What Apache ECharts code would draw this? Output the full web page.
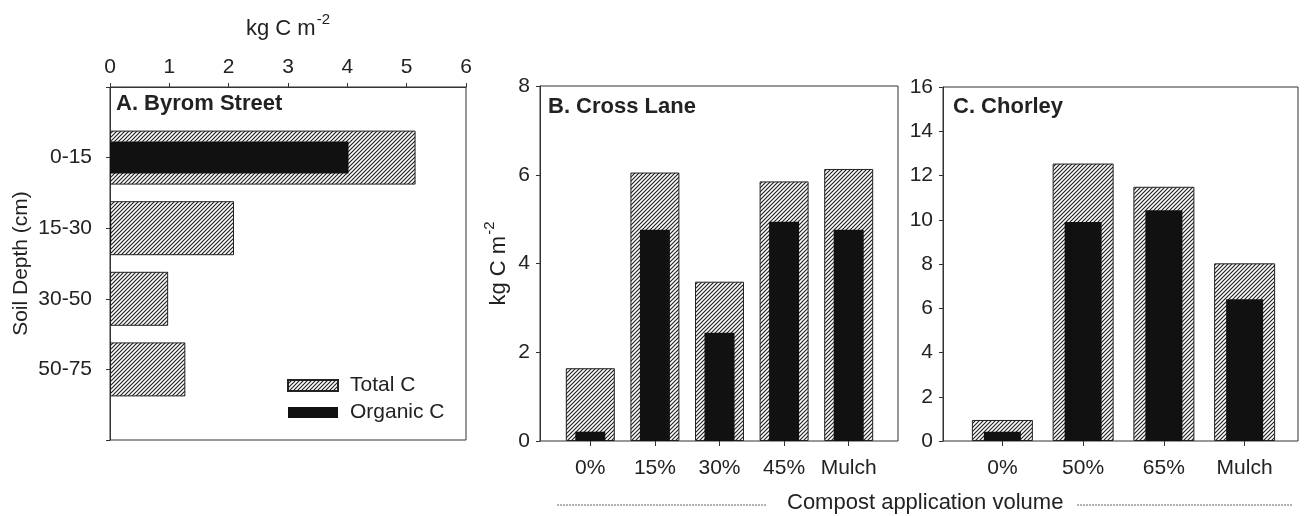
<!DOCTYPE html>
<html>
<head>
<meta charset="utf-8">
<script src="https://cdn.jsdelivr.net/npm/echarts@6/dist/echarts.min.js"></script>
<style>
html, body { margin: 0; padding: 0; background: #fff; }
#chart { width: 1308px; height: 516px; }
</style>
</head>
<body>
<div id="chart"></div>
<script>
// values (kg C m-2)
var depthCats = ['0-15', '15-30', '30-50', '50-75'];
var byromTotal = [5.15, 2.09, 0.98, 1.27];
var byromOrganic = [4.02, 0.02, 0, 0];

var crossCats = ['0%', '15%', '30%', '45%', 'Mulch'];
var crossTotal = [1.64, 6.05, 3.59, 5.85, 6.13];
var crossOrganic = [0.21, 4.76, 2.44, 4.94, 4.76];

var chorleyCats = ['0%', '50%', '65%', 'Mulch'];
var chorleyTotal = [0.95, 12.54, 11.49, 8.03];
var chorleyOrganic = [0.42, 9.9, 10.43, 6.41];

var FONT = 'Liberation Sans, Arial, sans-serif';
var INK = '#222';

// diagonal hatch tile for the Total C bars
function hatch() {
	var c = document.createElement('canvas');
	c.width = 4; c.height = 4;
	var ctx = c.getContext('2d');
	ctx.fillStyle = '#fff';
	ctx.fillRect(0, 0, 4, 4);
	ctx.strokeStyle = '#222';
	ctx.lineWidth = 1.2;
	ctx.beginPath();
	ctx.moveTo(0, 4); ctx.lineTo(4, 0);
	ctx.moveTo(-1, 1); ctx.lineTo(1, -1);
	ctx.moveTo(3, 5); ctx.lineTo(5, 3);
	ctx.stroke();
	return c;
}
var hatchFill = { image: hatch(), repeat: 'repeat' };

// panel A uses padded categories so bars sit at 1..4 on a 0..5 scale
var depthAxisCats = [''].concat(depthCats, ['']);
function pad(arr) { return ['-'].concat(arr, ['-']); }

var unitRich = {
	t: { fontSize: 22, fontFamily: FONT, color: INK, lineHeight: 28, verticalAlign: 'bottom' },
	s: { fontSize: 15, fontFamily: FONT, color: INK, lineHeight: 28, verticalAlign: 'top', padding: [0, 0, 0, 1] }
};
var unitName = '{t|kg C m}{s|-2}';

var labelStyle = { color: INK, fontSize: 21, fontFamily: FONT };
var lineStyle = { color: '#333', width: 1 };
var titleStyle = { fontSize: 22, fontWeight: 'bold', color: INK, fontFamily: FONT };

function hiddenCat(grid, data) {
	return { type: 'category', gridIndex: grid, data: data, show: false };
}

var myChart = echarts.init(document.getElementById('chart'));

var option = {
	backgroundColor: '#fff',
	animation: false,
	textStyle: { fontFamily: FONT },
	title: [
		{ text: 'A. Byrom Street', left: 116, top: 93, padding: 0, textStyle: titleStyle },
		{ text: 'B. Cross Lane', left: 548, top: 96, padding: 0, textStyle: titleStyle },
		{ text: 'C. Chorley', left: 953, top: 96, padding: 0, textStyle: titleStyle }
	],
	legend: {
		orient: 'vertical',
		left: 287,
		top: 375,
		padding: 0,
		itemWidth: 50,
		itemHeight: 11,
		itemGap: 6,
		icon: 'rect',
		data: ['Total C', 'Organic C'],
		textStyle: { color: INK, fontSize: 21, fontFamily: FONT, padding: [0, 0, 0, 7] }
	},
	grid: [
		{ left: 110, top: 87, width: 356, height: 353, show: true, borderColor: '#333', borderWidth: 1 },
		{ left: 540, top: 86, width: 358, height: 355, show: true, borderColor: '#333', borderWidth: 1 },
		{ left: 558, top: 86, width: 323, height: 355 },
		{ left: 943, top: 87, width: 355, height: 354, show: true, borderColor: '#333', borderWidth: 1 },
		{ left: 962, top: 87, width: 323, height: 354 }
	],
	xAxis: [
		{
			type: 'value', gridIndex: 0, position: 'top', min: 0, max: 6, interval: 1,
			name: unitName, nameLocation: 'middle', nameGap: 47,
			nameTextStyle: { rich: unitRich },
			axisLine: { show: true, lineStyle: lineStyle },
			axisTick: { show: true, inside: false, length: 4, lineStyle: lineStyle },
			axisLabel: Object.assign({ margin: 9 }, labelStyle),
			splitLine: { show: false }
		},
		{ type: 'value', gridIndex: 1, min: 0, max: 1, show: false },
		{
			type: 'category', gridIndex: 2, data: crossCats,
			axisLine: { show: false },
			axisTick: { show: true, alignWithLabel: true, length: 5, lineStyle: lineStyle },
			axisLabel: Object.assign({ margin: 17, interval: 0 }, labelStyle)
		},
		hiddenCat(2, crossCats),
		{ type: 'value', gridIndex: 3, min: 0, max: 1, show: false },
		{
			type: 'category', gridIndex: 4, data: chorleyCats,
			axisLine: { show: false },
			axisTick: { show: true, alignWithLabel: true, length: 5, lineStyle: lineStyle },
			axisLabel: Object.assign({ margin: 17, interval: 0 }, labelStyle)
		},
		hiddenCat(4, chorleyCats)
	],
	yAxis: [
		{
			type: 'category', gridIndex: 0, inverse: true, boundaryGap: false, data: depthAxisCats,
			name: 'Soil Depth (cm)', nameLocation: 'middle', nameGap: 78,
			nameTextStyle: { color: INK, fontSize: 21, fontFamily: FONT },
			axisLine: { show: true, lineStyle: lineStyle },
			axisTick: { show: true, length: 4, lineStyle: lineStyle },
			axisLabel: Object.assign({ margin: 18, interval: 0 }, labelStyle)
		},
		{ type: 'category', gridIndex: 0, inverse: true, boundaryGap: false, data: depthAxisCats, show: false },
		{
			type: 'value', gridIndex: 1, min: 0, max: 8, interval: 2,
			name: unitName, nameLocation: 'middle', nameGap: 30,
			nameTextStyle: { rich: unitRich },
			axisLine: { show: true, lineStyle: lineStyle },
			axisTick: { show: true, length: 4, lineStyle: lineStyle },
			axisLabel: Object.assign({ margin: 10 }, labelStyle),
			splitLine: { show: false }
		},
		{ type: 'value', gridIndex: 2, min: 0, max: 8, show: false },
		{
			type: 'value', gridIndex: 3, min: 0, max: 16, interval: 2,
			axisLine: { show: true, lineStyle: lineStyle },
			axisTick: { show: true, length: 4, lineStyle: lineStyle },
			axisLabel: Object.assign({ margin: 10 }, labelStyle),
			splitLine: { show: false }
		},
		{ type: 'value', gridIndex: 4, min: 0, max: 16, show: false }
	],
	series: [
		{
			type: 'bar', name: 'Total C', xAxisIndex: 0, yAxisIndex: 0, barWidth: 54,
			data: pad(byromTotal),
			itemStyle: { color: hatchFill, borderColor: INK, borderWidth: 1 }
		},
		{
			type: 'bar', name: 'Organic C', xAxisIndex: 0, yAxisIndex: 1, barWidth: 32, z: 3,
			data: pad(byromOrganic),
			itemStyle: { color: '#111' }
		},
		{
			type: 'bar', name: 'Total C', xAxisIndex: 2, yAxisIndex: 3, barWidth: 49,
			data: crossTotal,
			itemStyle: { color: hatchFill, borderColor: INK, borderWidth: 1 }
		},
		{
			type: 'bar', name: 'Organic C', xAxisIndex: 3, yAxisIndex: 3, barWidth: 30, z: 3,
			data: crossOrganic,
			itemStyle: { color: '#111' }
		},
		{
			type: 'bar', name: 'Total C', xAxisIndex: 5, yAxisIndex: 5, barWidth: 61,
			data: chorleyTotal,
			itemStyle: { color: hatchFill, borderColor: INK, borderWidth: 1 }
		},
		{
			type: 'bar', name: 'Organic C', xAxisIndex: 6, yAxisIndex: 5, barWidth: 37, z: 3,
			data: chorleyOrganic,
			itemStyle: { color: '#111' }
		}
	],
	graphic: [
		{
			type: 'text', left: 787, top: 492,
			style: { text: 'Compost application volume', fill: INK, fontSize: 22, fontFamily: FONT }
		},
		{
			type: 'line', shape: { x1: 557, y1: 505, x2: 767, y2: 505 },
			style: { stroke: '#666', lineWidth: 1, lineDash: [2, 1] }
		},
		{
			type: 'line', shape: { x1: 1077, y1: 505, x2: 1293, y2: 505 },
			style: { stroke: '#666', lineWidth: 1, lineDash: [2, 1] }
		}
	]
};

myChart.setOption(option);
</script>
</body>
</html>
